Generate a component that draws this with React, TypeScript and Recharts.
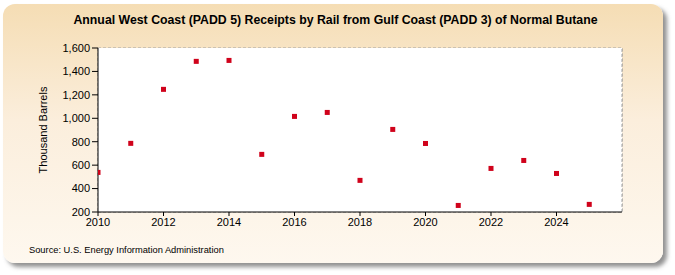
import { ScatterChart, Scatter, XAxis, YAxis, CartesianGrid, ReferenceLine } from 'recharts'

const years = [2010, 2011, 2012, 2013, 2014, 2015, 2016, 2017, 2018, 2019, 2020, 2021, 2022, 2023, 2024, 2025]
const receipts = [538, 786, 1247, 1486, 1494, 692, 1016, 1050, 470, 905, 785, 256, 572, 640, 529, 265]
const xTicks = [2010, 2012, 2014, 2016, 2018, 2020, 2022, 2024]
const yTicks = [200, 400, 600, 800, 1000, 1200, 1400, 1600]

const data = years.map((year, i) => ({ year, value: receipts[i] }))

const FONT = '"Liberation Sans", Arial, sans-serif'

const fmt = (v: number) => v.toLocaleString('en-US')

// small filled square marker
const SquareDot = (props: any) => {
  const { cx, cy } = props
  if (cx == null || cy == null) return null
  return <rect x={cx - 2.5} y={cy - 2.5} width={5} height={5} fill="#D0021B" />
}

export default function App() {
  return (
    <div style={{ position: 'absolute', left: 0, top: 0, width: 675, height: 275, fontFamily: FONT }}>
      {/* card background */}
      <div
        style={{
          position: 'absolute',
          left: 3,
          top: 4,
          width: 660,
          height: 259,
          borderRadius: 12,
          background: 'linear-gradient(to bottom, #F5DDB4 0%, #FBEEDC 45%, #FEF8EF 100%)',
          boxShadow: '4px 4px 4px rgba(110,110,110,0.75)',
        }}
      />
      <div
        style={{
          position: 'absolute',
          left: 0,
          top: 13,
          width: 671,
          textAlign: 'center',
          fontWeight: 'bold',
          fontSize: 12.3,
          color: '#000',
        }}
      >
        Annual West Coast (PADD 5) Receipts by Rail from Gulf Coast (PADD 3) of Normal Butane
      </div>
      <div style={{ position: 'absolute', left: 29, top: 245, fontSize: 9.3, color: '#000' }}>
        Source: U.S. Energy Information Administration
      </div>
      <div style={{ position: 'absolute', left: 0, top: 0 }}>
        <ScatterChart width={675} height={275} margin={{ top: 48, right: 53, bottom: 43, left: 0 }}>
          <rect x={98} y={48} width={524} height={164} fill="#FFFFFF" />
          <CartesianGrid stroke="#A0A0A0" strokeDasharray="3 2" />
          <ReferenceLine x={2026} stroke="#A0A0A0" strokeDasharray="3 2" />
          <XAxis
            type="number"
            dataKey="year"
            domain={[2010, 2026]}
            ticks={xTicks}
            allowDataOverflow
            height={20}
            axisLine={{ stroke: '#000' }}
            tickLine={{ stroke: '#000' }}
            tickSize={4}
            tick={{ fill: '#000', fontSize: 11, fontFamily: FONT }}
          />
          <YAxis
            type="number"
            dataKey="value"
            domain={[200, 1600]}
            ticks={yTicks}
            allowDataOverflow
            width={98}
            tickFormatter={fmt}
            axisLine={{ stroke: '#000' }}
            tickLine={{ stroke: '#000' }}
            tickSize={6}
            tick={{ fill: '#000', fontSize: 11, fontFamily: FONT }}
            label={{
              value: 'Thousand Barrels',
              angle: -90,
              position: 'insideLeft',
              offset: 43,
              style: { fill: '#000', fontSize: 11, fontFamily: FONT, textAnchor: 'middle' },
            }}
          />
          <Scatter data={data} shape={SquareDot} isAnimationActive={false} />
        </ScatterChart>
      </div>
    </div>
  )
}
